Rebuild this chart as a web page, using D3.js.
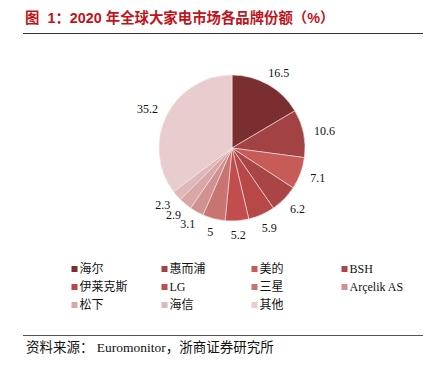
<!DOCTYPE html>
<html><head><meta charset="utf-8">
<script src="https://cdn.jsdelivr.net/npm/d3@7"></script>
<style>
body{margin:0;background:#fff;}
</style></head>
<body>
<svg id="c" width="436" height="376"></svg>
<script>
const categories = ["海尔","惠而浦","美的","BSH","伊莱克斯","LG","三星","Arçelik AS","松下","海信","其他"];
const values = [16.5,10.6,7.1,6.2,5.9,5.2,5,3.1,2.9,2.3,35.2];
const colors = ["#7A2E2F","#A34244","#C65B57","#A94545","#B84848","#C14D4F","#C87473","#D09191","#D9A7A8","#DFB8B9","#E9CDCE"];
const titleText = "图  1：2020 年全球大家电市场各品牌份额（%）";
const sourceText = "资料来源： Euromonitor，浙商证券研究所";

const svg = d3.select("#c");
const serif = "'Liberation Serif','Noto Sans CJK SC',serif";

// title
svg.append("text").attr("x",25).attr("y",23)
  .style("white-space","pre")
  .attr("font-family","'Liberation Sans','Noto Sans CJK SC',sans-serif")
  .attr("font-weight","bold").attr("font-size",14.4).attr("fill","#C0141C")
  .text(titleText);
svg.append("line").attr("x1",23).attr("x2",423).attr("y1",33.5).attr("y2",33.5)
  .attr("stroke","#333").attr("stroke-width",1);

// pie
const cx = 232, cy = 148, r = 73;
const data = categories.map((c,i)=>({name:c,value:values[i],color:colors[i]}));
const pie = d3.pie().value(d=>d.value).sort(null);
const arcs = pie(data);
const arc = d3.arc().innerRadius(0).outerRadius(r);
const labelArc = d3.arc().innerRadius(84).outerRadius(84);
const g = svg.append("g").attr("transform",`translate(${cx},${cy})`);
g.selectAll("path").data(arcs).join("path")
  .attr("d",arc).attr("fill",d=>d.data.color)
  .attr("stroke","#f4e6e6").attr("stroke-width",0.6);
g.selectAll("text").data(arcs).join("text")
  .attr("text-anchor","middle").attr("dy","0.35em")
  .attr("font-family",serif).attr("font-size",12).attr("fill","#111")
  .text(d=>d.data.value)
  .each(function(d){
    const w = this.getComputedTextLength();
    const a = (d.startAngle+d.endAngle)/2;
    const [px,py] = labelArc.centroid(d);
    const x = px + Math.sin(a)*w/2;
    const y = py - Math.cos(a)*3;
    d3.select(this).attr("transform",`translate(${x},${y})`);
  });

// legend
const colX = d3.scaleBand().domain([0,1,2,3]).range([71.5,431.5]);
const rowY = d3.scaleLinear().domain([0,2]).range([269,305]);
const lg = svg.append("g");
data.forEach((d,i)=>{
  const col = i%4, row = Math.floor(i/4);
  const x = colX(col), y = rowY(row);
  lg.append("rect").attr("x",x).attr("y",y-3).attr("width",6).attr("height",6).attr("fill",d.color);
  lg.append("text").attr("x",x+8).attr("y",y).attr("dy","0.36em")
    .attr("font-family",serif).attr("font-size",12).attr("fill","#111").text(d.name);
});

// footer
svg.append("line").attr("x1",23).attr("x2",423).attr("y1",335.5).attr("y2",335.5)
  .attr("stroke","#555").attr("stroke-width",1);
svg.append("text").attr("x",26).attr("y",352)
  .style("white-space","pre")
  .attr("font-family",serif).attr("font-size",13.5).attr("fill","#111")
  .text(sourceText);
</script>
</body></html>
